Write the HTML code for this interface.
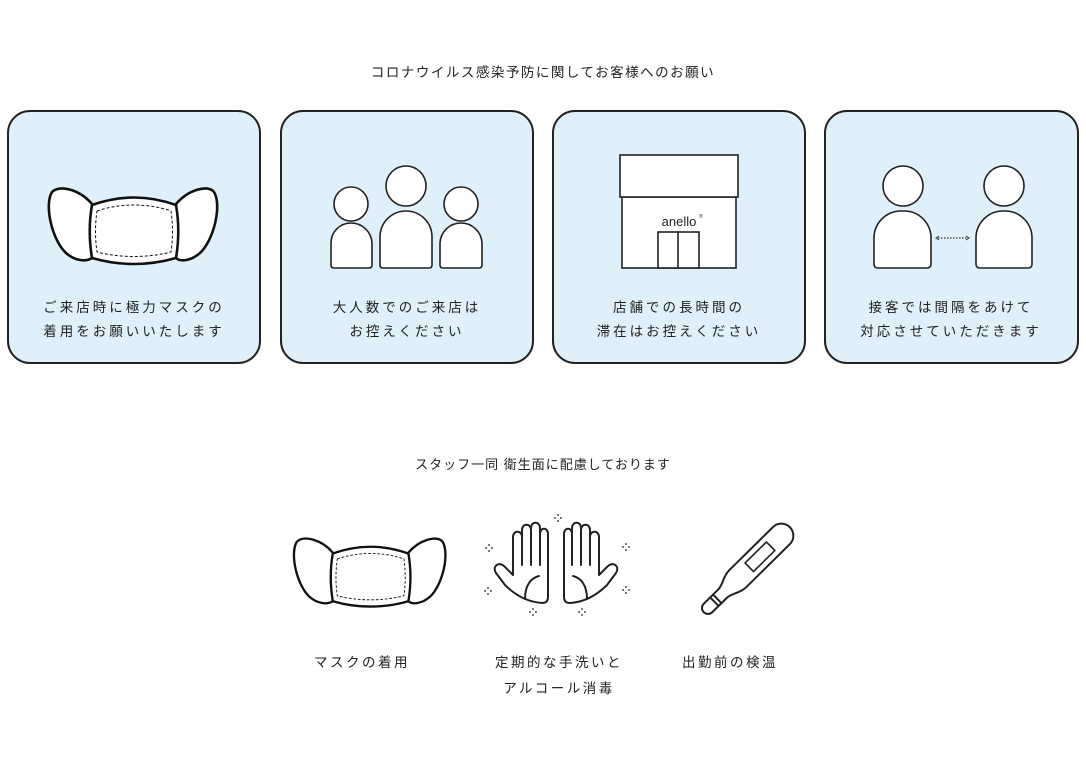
<!DOCTYPE html>
<html><head><meta charset="utf-8"><style>
body{margin:0;background:#fff;width:1086px;height:752px;overflow:hidden}
svg text{font-family:"Liberation Sans","Noto Sans CJK JP",sans-serif;fill:#222;}
</style></head><body>
<svg width="1086" height="752" viewBox="0 0 1086 752" xmlns="http://www.w3.org/2000/svg">
<defs>
<g id="mask">
<path d="M92,204 C80,190 60,184 52,192 C44,205 52,240 66,253 C75,261 86,262 92,258 Z" fill="#fff" stroke="#111" stroke-width="2.6"/>
<path d="M176,204 C188,190 208,184 214,192 C222,205 214,240 200,253 C191,261 180,262 176,258 Z" fill="#fff" stroke="#111" stroke-width="2.6"/>
<path d="M92,205 C120,195 148,195 176,205 C179,222 179,240 176,258 C148,266 120,266 92,258 C89,240 89,222 92,205 Z" fill="#fff" stroke="#111" stroke-width="2.6"/>
<path d="M97,211 C120,203 148,203 171,211 C173,225 173,238 171,252 C148,258 120,258 97,252 C95,238 95,225 97,211 Z" fill="none" stroke="#111" stroke-width="1" stroke-dasharray="3,2"/>
</g>
<g id="sp" fill="#222"><circle cx="0" cy="-3" r="0.9"/><circle cx="0" cy="3" r="0.9"/><circle cx="-3" cy="0" r="0.9"/><circle cx="3" cy="0" r="0.9"/></g>
<g id="hand" fill="none" stroke="#222" stroke-width="2" stroke-linecap="round" stroke-linejoin="round">
<path d="M47,78 C32,77 20,70 10,60 L1,48 C-3,42 3,36 9,41 L18,50 L18,12 C18,5 27,5 27,12 L27,40 L27,5 C27,-2 36,-2 36,5 L36,40 L36,3 C36,-4 45,-4 45,3 L45,40 L45,9 C45,2 53,2 53,9 L53,72 C53,76 51,78 47,78 Z"/>
<path d="M30,74 C30,60 36,53 44,51"/>
</g>
</defs>
<text x="543" y="77" font-size="13.5" text-anchor="middle" letter-spacing="1.5">コロナウイルス感染予防に関してお客様へのお願い</text>
<g fill="#dff0fa" stroke="#222" stroke-width="2">
<rect x="8" y="111" width="252" height="252" rx="22"/>
<rect x="281" y="111" width="252" height="252" rx="22"/>
<rect x="553" y="111" width="252" height="252" rx="22"/>
<rect x="825" y="111" width="253" height="252" rx="22"/>
</g>
<use href="#mask"/>
<g fill="#fff" stroke="#222" stroke-width="1.6">
<circle cx="351" cy="204" r="17"/>
<path d="M331,265 V243 A20,20 0 0 1 351,223 A21,21 0 0 1 372,243 V265 Q372,268 369,268 H334 Q331,268 331,265Z"/>
<circle cx="406" cy="186" r="20"/>
<path d="M380,265 V237 A26,26 0 0 1 406,211 A26,26 0 0 1 432,237 V265 Q432,268 429,268 H383 Q380,268 380,265Z"/>
<circle cx="461" cy="204" r="17"/>
<path d="M440,265 V243 A21,21 0 0 1 461,223 A21,21 0 0 1 482,243 V265 Q482,268 479,268 H443 Q440,268 440,265Z"/>
<rect x="622" y="197" width="114" height="71"/>
<rect x="620" y="155" width="118" height="42"/>
<rect x="658" y="232" width="41" height="36"/>
<line x1="678" y1="232" x2="678" y2="268"/>
<circle cx="903" cy="186" r="20"/>
<path d="M874,264 V238 A27,27 0 0 1 901,211 H905 A27,27 0 0 1 931,238 V264 Q931,268 927,268 H878 Q874,268 874,264Z"/>
<circle cx="1004" cy="186" r="20"/>
<path d="M976,264 V238 A27,27 0 0 1 1003,211 H1006 A27,27 0 0 1 1032,238 V264 Q1032,268 1028,268 H980 Q976,268 976,264Z"/>
</g>
<text x="679" y="226" font-size="13" text-anchor="middle">anello</text>
<text x="699" y="218" font-size="5">®</text>
<line x1="938" y1="238" x2="968" y2="238" stroke="#333" stroke-width="1.3" stroke-dasharray="1.5,1.5"/>
<path d="M939,236 L936,238 L939,240 M966,236 L969,238 L966,240" fill="none" stroke="#333" stroke-width="1"/>
<g font-size="13.5" text-anchor="middle" letter-spacing="3">
<text x="134" y="312">ご来店時に極力マスクの</text>
<text x="134" y="336">着用をお願いいたします</text>
<text x="407" y="312">大人数でのご来店は</text>
<text x="407" y="336">お控えください</text>
<text x="679" y="312">店舗での長時間の</text>
<text x="679" y="336">滞在はお控えください</text>
<text x="951" y="312">接客では間隔をあけて</text>
<text x="951" y="336">対応させていただきます</text>
</g>
<text x="543" y="469" font-size="13" text-anchor="middle" letter-spacing="1">スタッフ一同 衛生面に配慮しております</text>
<use href="#mask" transform="translate(250,369) scale(0.9)"/>
<use href="#hand" transform="translate(495,525)"/>
<use href="#hand" transform="translate(617,525) scale(-1,1)"/>
<g transform="translate(708,608) rotate(-44.6)" fill="none" stroke="#222" stroke-width="2" stroke-linejoin="round">
<path d="M0,-6 L20,-6 C28,-6 32,-12 42,-12 L103,-12 A12,12 0 0 1 103,12 L42,12 C32,12 28,6 20,6 L0,6 A6,6 0 0 1 0,-6 Z"/>
<path d="M9,-6 V6 M13,-6 V6"/>
<rect x="58" y="-6" width="30" height="12" stroke-width="1.6"/>
</g>
<use href="#sp" x="558" y="518"/><use href="#sp" x="489" y="548"/><use href="#sp" x="626" y="547"/>
<use href="#sp" x="488" y="591"/><use href="#sp" x="626" y="590"/>
<use href="#sp" x="533" y="612"/><use href="#sp" x="582" y="612"/>
<g font-size="13.5" text-anchor="middle" letter-spacing="2.5">
<text x="362" y="667">マスクの着用</text>
<text x="559" y="667">定期的な手洗いと</text>
<text x="559" y="693">アルコール消毒</text>
<text x="730" y="667">出勤前の検温</text>
</g>
</svg>
</body></html>
